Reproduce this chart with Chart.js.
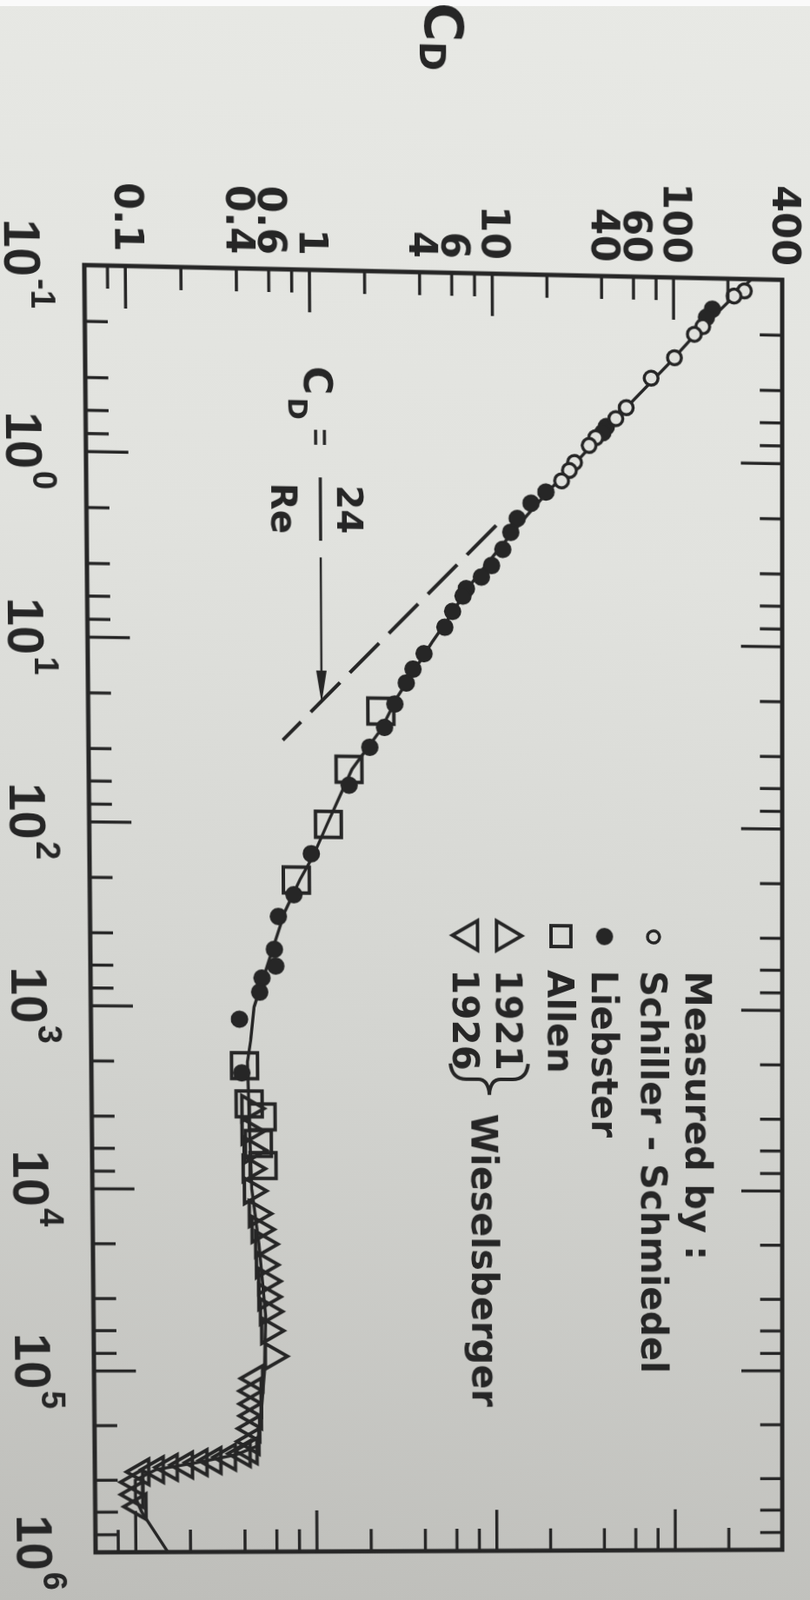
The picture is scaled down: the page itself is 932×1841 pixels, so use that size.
<!DOCTYPE html>
<html>
<head>
<meta charset="utf-8">
<script src="https://cdn.jsdelivr.net/npm/chart.js@4.4.1/dist/chart.umd.min.js"></script>
<style>
  html, body { margin: 0; padding: 0; }
  body {
    width: 932px; height: 1841px; overflow: hidden; position: relative;
    background: linear-gradient(188deg, #e8e9e5 0%, #e1e2de 35%, #d3d4d0 65%, #bdbdb9 100%);
  }
  .edge { position: absolute; left: 0; top: 0; width: 932px; height: 7px; background: #fafafa; }
  /* the page is a photo of a book figure turned a quarter turn clockwise */
  #wrap {
    position: absolute; left: 0; top: 0; width: 1841px; height: 932px;
    transform-origin: 0 0; transform: translate(932px, 0) rotate(90deg);
  }
</style>
</head>
<body>
<div class="edge"></div>
<div id="wrap"><canvas id="drag" width="1841" height="932"></canvas></div>
<script>
const ink = '#262626';
const paper = '#e0e1dd';

// sphere drag coefficient
const schillerRe = [0.116, 0.124, 0.183, 0.202, 0.272, 0.353, 0.513, 0.59, 0.752, 0.83, 1.03, 1.14, 1.3];
const schillerCd = [247, 216, 145, 130, 101, 75, 54.6, 47.8, 37, 34, 28.2, 26.4, 23.9];

const liebsterRe = [0.147, 0.163, 0.653, 0.705, 1.5, 1.73, 2.1, 2.5, 3.1, 3.8, 4.4, 5.1, 5.6, 6.8, 8.3, 11.6, 14.1, 16.8,
                    21.9, 29.4, 37.8, 61, 145, 243, 320, 484, 597, 695, 830, 1170, 2300];
const liebsterCd = [164, 152, 42.4, 40.5, 19.6, 16.2, 13.6, 12.5, 11.3, 9.8, 8.6, 7.1, 6.8, 5.96, 5.4, 4.14, 3.6, 3.3,
                    2.85, 2.5, 2.07, 1.59, 0.98, 0.785, 0.644, 0.61, 0.62, 0.52, 0.505, 0.39, 0.40];

const allenRe = [24, 50, 100, 202, 2100, 3400, 4000, 5600, 7400];
const allenCd = [2.39, 1.59, 1.22, 0.81, 0.414, 0.438, 0.516, 0.49, 0.52];

const w1921Re = [3600, 4800, 6100, 7700, 10200, 13600, 16600, 20000, 26000, 32000, 39000, 47000, 60000, 83000];
const w1921Cd = [0.438, 0.438, 0.45, 0.443, 0.45, 0.478, 0.494, 0.516, 0.52, 0.534, 0.534, 0.545, 0.552, 0.577];

const w1926Re = [110000, 129000, 152000, 177000, 208000, 245000, 276000, 286000, 299000, 312000, 320000, 330000,
                 340000, 350000, 360000, 410000, 480000, 560000];
const w1926Cd = [0.462, 0.453, 0.453, 0.453, 0.443, 0.438, 0.428, 0.392, 0.325, 0.27, 0.226, 0.188,
                 0.155, 0.13, 0.108, 0.1, 0.1, 0.104];

// the drawn mean curve
const curveRe = [0.1, 0.2, 0.3, 0.5, 0.7, 1, 1.5, 2, 3, 5, 7, 10, 15, 20, 30, 50, 100, 150, 200, 300, 500,
                 1000, 1500, 2000, 5000, 1e4, 2e4, 5e4, 1e5, 2e5, 2.6e5, 2.9e5, 3.2e5, 3.5e5, 4e5, 5e5, 6e5, 1e6];
const curveCd = [270, 133, 92, 56, 41, 29.5, 20, 15.5, 11, 7.3, 5.9, 4.6, 3.55, 2.95, 2.4, 1.65, 1.2, 1.0, 0.85, 0.7, 0.59,
                 0.47, 0.45, 0.43, 0.44, 0.45, 0.49, 0.53, 0.52, 0.49, 0.47, 0.36, 0.22, 0.13, 0.1, 0.1, 0.108, 0.15];

// dashed Stokes line C_D = 24/Re
const stokesRe = [2.3, 35];
const stokesCd = [10.4, 0.69];

const cdLabels = [0.1, 0.4, 0.6, 1, 4, 6, 10, 40, 60, 100, 400];
const reDecades = [-1, 0, 1, 2, 3, 4, 5, 6];
const cdDecades = [-2, -1, 0, 1, 2];
const minorSteps = [2, 4, 6, 8];

// where the frame corners sit in the photo (it is a little out of square)
const photoCorners = [[97, 305], [900, 322], [110, 1786], [900, 1783]];

const pts = (xs, ys) => xs.map((x, i) => ({ x, y: ys[i] }));

const bookFrame = {
  id: 'bookFrame',
  afterDatasetsDraw(chart) {
    const { ctx, chartArea: a, scales: { x, y } } = chart;
    ctx.save();
    ctx.strokeStyle = ink;
    ctx.fillStyle = ink;
    const line = (x1, y1, x2, y2) => { ctx.beginPath(); ctx.moveTo(x1, y1); ctx.lineTo(x2, y2); ctx.stroke(); };

    // frame and inward ticks on all four sides
    ctx.lineWidth = 5;
    ctx.strokeRect(a.left, a.top, a.right - a.left, a.bottom - a.top);
    ctx.lineWidth = 3.5;
    reDecades.forEach(e => {
      [1, ...minorSteps].forEach(m => {
        const v = Math.pow(10, e) * m;
        if (v <= x.min * 1.001 || v >= x.max * 0.999) return;
        const p = x.getPixelForValue(v);
        const len = m === 1 ? 48 : 26;
        line(p, a.bottom, p, a.bottom - len);
        line(p, a.top, p, a.top + len);
      });
    });
    cdDecades.forEach(e => {
      [1, ...minorSteps].forEach(m => {
        const v = Math.pow(10, e) * m;
        if (v <= y.min * 1.001 || v >= y.max * 0.999) return;
        const p = y.getPixelForValue(v);
        const len = m === 1 ? 48 : 26;
        line(a.left, p, a.left + len, p);
        line(a.right, p, a.right - len, p);
      });
    });

    // Re tick labels 10^n
    ctx.textAlign = 'left';
    ctx.textBaseline = 'alphabetic';
    reDecades.forEach(e => {
      const p = x.getPixelForValue(Math.pow(10, e));
      const exp = e < 0 ? '-' + (-e) : String(e);
      ctx.font = 'bold 58px "Liberation Sans"';
      const w1 = ctx.measureText('10').width;
      ctx.font = 'bold 38px "Liberation Sans"';
      const w2 = ctx.measureText(exp).width;
      const start = p - (w1 + w2 + 2) / 2;
      ctx.font = 'bold 58px "Liberation Sans"';
      ctx.fillText('10', start, 920);
      ctx.font = 'bold 38px "Liberation Sans"';
      ctx.fillText(exp, start + w1 + 2, 890);
    });

    // axis title C_D
    ctx.font = 'bold 60px "DejaVu Sans"';
    ctx.fillText('C', 8, 442);
    ctx.font = 'bold 40px "DejaVu Sans"';
    ctx.fillText('D', 52, 448);

    // C_D = 24/Re with arrow
    ctx.font = 'bold 44px "DejaVu Sans"';
    ctx.fillText('C', 422, 582);
    ctx.font = 'bold 30px "DejaVu Sans"';
    ctx.fillText('D', 458, 600);
    ctx.lineWidth = 3.5;
    line(494, 559, 511, 559);
    line(494, 569, 511, 569);
    line(548, 564, 620, 564);
    ctx.font = 'bold 40px "DejaVu Sans"';
    ctx.textAlign = 'center';
    ctx.fillText('24', 584, 545);
    ctx.fillText('Re', 584, 620);
    ctx.lineWidth = 2.5;
    line(639, 564, 780, 564);
    ctx.beginPath();
    ctx.moveTo(805, 564); ctx.lineTo(768, 558); ctx.lineTo(768, 570); ctx.closePath();
    ctx.fill();

    // legend "Measured by :"
    ctx.textAlign = 'left';
    ctx.font = 'bold 42px "DejaVu Sans"';
    ctx.fillText('Measured by :', 1109, 145);
    ctx.fillText('Schiller - Schmiedel', 1109, 197);
    ctx.fillText('Liebster', 1109, 254);
    ctx.fillText('Allen', 1109, 305);
    ctx.fillText('1921', 1109, 365);
    ctx.fillText('1926', 1109, 415);
    ctx.fillText('Wieselsberger', 1276, 394);

    ctx.lineWidth = 3.5;
    ctx.beginPath(); ctx.arc(1070, 182, 7, 0, Math.PI * 2); ctx.stroke();
    ctx.beginPath(); ctx.arc(1070, 239, 10, 0, Math.PI * 2); ctx.fill();
    ctx.lineWidth = 4;
    ctx.strokeRect(1058, 278, 24, 23);
    ctx.beginPath();
    ctx.moveTo(1070, 335); ctx.lineTo(1087, 364); ctx.lineTo(1053, 364); ctx.closePath(); ctx.stroke();
    ctx.beginPath();
    ctx.moveTo(1053, 386); ctx.lineTo(1087, 386); ctx.lineTo(1070, 415); ctx.closePath(); ctx.stroke();

    // brace grouping 1921 and 1926
    ctx.lineWidth = 4;
    ctx.beginPath();
    ctx.moveTo(1218, 328);
    ctx.quadraticCurveTo(1236, 330, 1236, 346);
    ctx.lineTo(1236, 360);
    ctx.quadraticCurveTo(1236, 372, 1254, 373);
    ctx.quadraticCurveTo(1236, 374, 1236, 386);
    ctx.lineTo(1236, 400);
    ctx.quadraticCurveTo(1236, 416, 1218, 418);
    ctx.stroke();
    ctx.restore();
  }
};

const chart = new Chart(document.getElementById('drag'), {
  type: 'scatter',
  data: {
    datasets: [
      { data: pts(curveRe, curveCd), showLine: true, pointRadius: 0, borderColor: ink, borderWidth: 3.5, order: 6 },
      { data: pts(stokesRe, stokesCd), showLine: true, pointRadius: 0, borderColor: ink, borderWidth: 4,
        borderDash: [48, 16], order: 6 },
      { label: 'Allen', data: pts(allenRe, allenCd), pointStyle: 'rect', pointRadius: 21, borderWidth: 4,
        borderColor: ink, backgroundColor: 'rgba(0,0,0,0)', order: 5 },
      { label: '1921', data: pts(w1921Re, w1921Cd), pointStyle: 'triangle', pointRadius: 17, borderWidth: 4,
        borderColor: ink, backgroundColor: 'rgba(0,0,0,0)', order: 4 },
      { label: '1926', data: pts(w1926Re, w1926Cd), pointStyle: 'triangle', rotation: 180, pointRadius: 17,
        borderWidth: 4, borderColor: ink, backgroundColor: 'rgba(0,0,0,0)', order: 3 },
      { label: 'Liebster', data: pts(liebsterRe, liebsterCd), pointStyle: 'circle', pointRadius: 9, borderWidth: 2,
        borderColor: ink, backgroundColor: ink, order: 2 },
      { label: 'Schiller - Schmiedel', data: pts(schillerRe, schillerCd), pointStyle: 'circle', pointRadius: 8,
        borderWidth: 3.5, borderColor: ink, backgroundColor: paper, order: 1 }
    ]
  },
  options: {
    responsive: false,
    animation: false,
    devicePixelRatio: 1,
    layout: { padding: { top: 32, right: 56, left: 0, bottom: 0 } },
    scales: {
      x: {
        type: 'logarithmic', min: 0.1, max: 1e6,
        grid: { display: false }, border: { display: false },
        ticks: { display: false },
        afterFit: s => { s.height = 102; s.paddingLeft = 0; s.paddingRight = 0; }
      },
      y: {
        type: 'logarithmic', min: 0.06, max: 400,
        grid: { display: false, drawTicks: false }, border: { display: false },
        afterBuildTicks: s => { s.ticks = cdLabels.map(value => ({ value })); },
        ticks: {
          autoSkip: false, padding: 16, color: ink,
          font: { family: 'DejaVu Sans', size: 44, weight: 'bold' },
          callback: v => String(v)
        },
        afterFit: s => { s.width = 313; s.paddingTop = 0; s.paddingBottom = 0; }
      }
    },
    plugins: { legend: { display: false }, tooltip: { enabled: false } }
  },
  plugins: [bookFrame]
});

// turn the canvas onto the page with the same slight keystone as the photo
function solve(A, b) {
  const n = b.length;
  for (let i = 0; i < n; i++) {
    let p = i;
    for (let r = i + 1; r < n; r++) if (Math.abs(A[r][i]) > Math.abs(A[p][i])) p = r;
    [A[i], A[p]] = [A[p], A[i]];
    [b[i], b[p]] = [b[p], b[i]];
    for (let r = i + 1; r < n; r++) {
      const f = A[r][i] / A[i][i];
      for (let c = i; c < n; c++) A[r][c] -= f * A[i][c];
      b[r] -= f * b[i];
    }
  }
  const out = new Array(n).fill(0);
  for (let i = n - 1; i >= 0; i--) {
    let s = b[i];
    for (let c = i + 1; c < n; c++) s -= A[i][c] * out[c];
    out[i] = s / A[i][i];
  }
  return out;
}

const ca = chart.chartArea;
const src = [[ca.left, ca.bottom], [ca.left, ca.top], [ca.right, ca.bottom], [ca.right, ca.top]];
const A = [], b = [];
src.forEach(([u, v], i) => {
  const [X, Y] = photoCorners[i];
  A.push([u, v, 1, 0, 0, 0, -u * X, -v * X]); b.push(X);
  A.push([0, 0, 0, u, v, 1, -u * Y, -v * Y]); b.push(Y);
});
const [h1, h2, h3, h4, h5, h6, h7, h8] = solve(A, b);
document.getElementById('wrap').style.transform =
  `matrix3d(${h1},${h4},0,${h7},${h2},${h5},0,${h8},0,0,1,0,${h3},${h6},0,1)`;
</script>
</body>
</html>
